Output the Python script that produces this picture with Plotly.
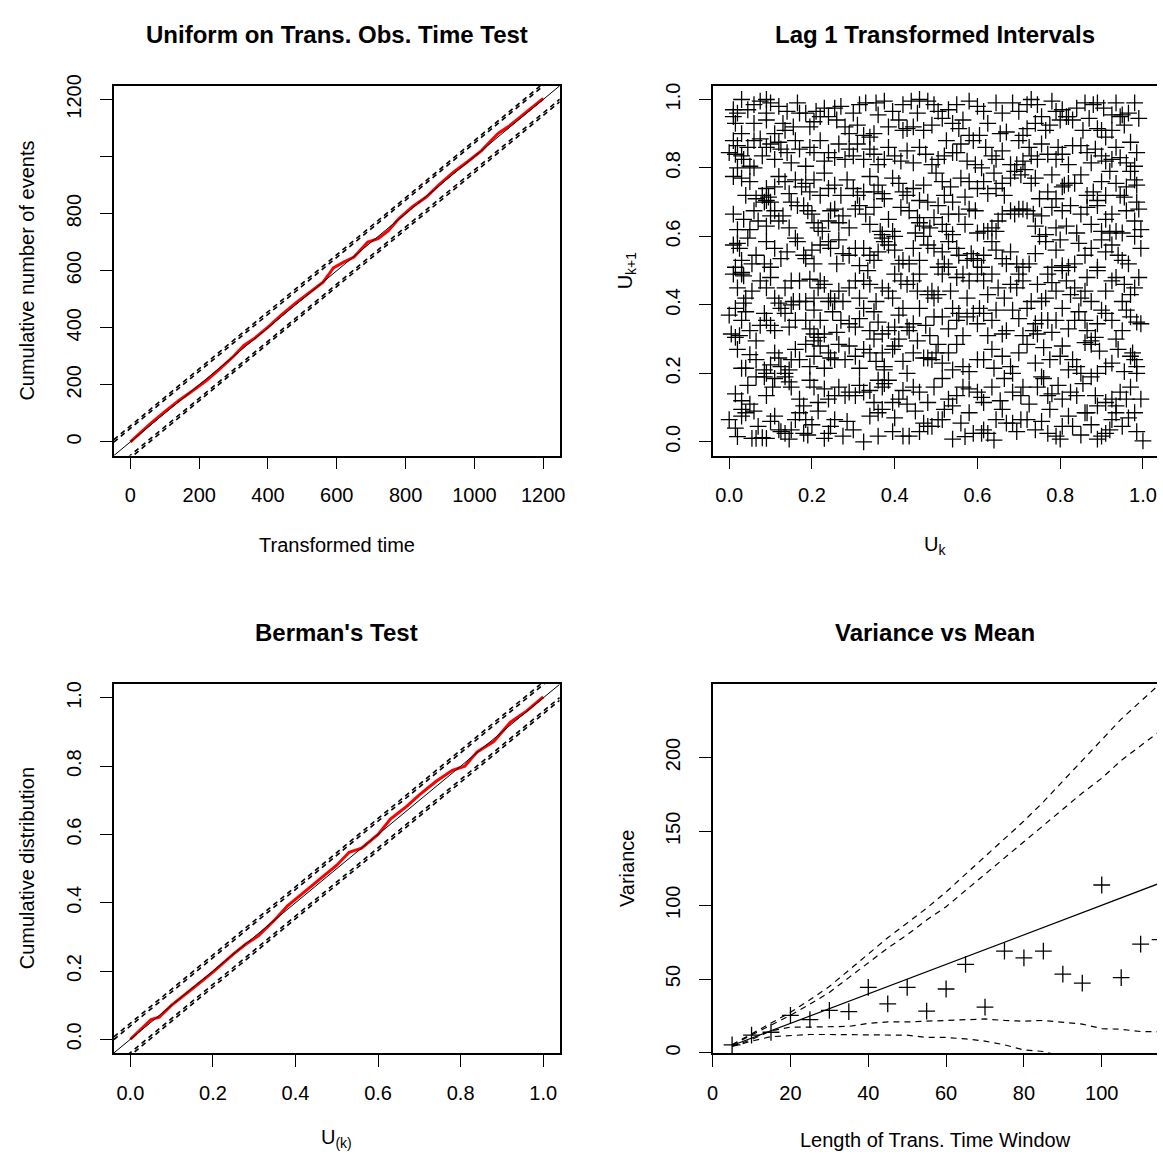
import plotly.graph_objects as go

W, H = 1163, 1158

# ---------------- Panel 1: Uniform on Trans. Obs. Time Test ----------------
tt_time = [0, 30, 60, 100, 140, 180, 220, 260, 300, 330, 360, 400, 440, 480, 520,
           560, 575, 590, 620, 650, 690, 720, 750, 780, 820, 860, 900, 940, 980,
           1020, 1050, 1070, 1100, 1140, 1170, 1200]
tt_count = [0, 34, 66, 106, 144, 178, 214, 256, 300, 338, 362, 402, 446, 486, 524,
            560, 584, 610, 630, 648, 700, 712, 740, 782, 824, 858, 904, 946, 982,
            1020, 1058, 1082, 1106, 1146, 1176, 1204]
tt_band_offsets = [47, 56]
tt_range = [-48, 1248]
tt_ticks = [0, 200, 400, 600, 800, 1000, 1200]
tt_xticklabels = ["0", "200", "400", "600", "800", "1000", "1200"]
tt_yticklabels = ["0", "200", "400", "600", "800", " ", "1200"]

# ---------------- Panel 3: Berman's Test ----------------
ks_u = [0, 0.03, 0.05, 0.07, 0.1, 0.15, 0.2, 0.25, 0.28, 0.31, 0.35, 0.38, 0.42,
        0.46, 0.5, 0.53, 0.56, 0.6, 0.63, 0.67, 0.7, 0.74, 0.78, 0.81, 0.84, 0.88,
        0.92, 0.96, 1.0]
ks_cdf = [0, 0.035, 0.058, 0.065, 0.10, 0.148, 0.197, 0.25, 0.279, 0.303, 0.35,
          0.39, 0.43, 0.47, 0.51, 0.548, 0.56, 0.60, 0.645, 0.683, 0.716, 0.755,
          0.788, 0.80, 0.842, 0.872, 0.928, 0.962, 1.003]
ks_band_offsets = [0.039, 0.047]
ks_range = [-0.04, 1.04]
unit_ticks = [0, 0.2, 0.4, 0.6, 0.8, 1.0]
unit_ticklabels = ["0.0", "0.2", "0.4", "0.6", "0.8", "1.0"]

# ---------------- Panel 2: Lag 1 Transformed Intervals ----------------
lag_points = [
    (0.01,0.97),(0.01,0.95),(0.02,0.96),(0.03,1.0),(0.075,0.995),(0.09,1.0),(0.10,0.99),(0.09,0.96),
    (0.12,0.98),(0.14,0.965),(0.17,0.96),(0.185,0.96),(0.24,0.95),(0.255,0.975),(0.27,0.98),(0.33,0.99),
    (0.355,0.99),(0.375,0.995),(0.42,0.985),(0.44,0.995),(0.46,1.0),(0.48,0.995),(0.495,0.985),(0.53,0.97),
    (0.55,0.985),(0.58,0.995),(0.60,0.98),(0.615,0.965),(0.685,0.99),(0.70,0.965),(0.73,1.0),(0.745,0.985),
    (0.78,0.995),(0.805,0.97),(0.82,0.95),(0.86,0.99),(0.88,0.985),(0.89,0.99),(0.98,0.99),(0.925,0.955),
    (0.945,0.95),(0.95,0.955),
    (0.015,0.93),(0.03,0.90),(0.06,0.93),(0.09,0.94),(0.11,0.90),(0.135,0.91),(0.155,0.92),(0.195,0.92),
    (0.205,0.935),(0.22,0.95),(0.28,0.92),(0.29,0.90),(0.31,0.925),(0.325,0.895),(0.34,0.89),(0.35,0.90),
    (0.385,0.92),(0.42,0.91),(0.43,0.915),(0.445,0.92),(0.47,0.91),(0.49,0.925),(0.515,0.945),(0.54,0.93),
    (0.555,0.915),(0.58,0.895),(0.59,0.88),(0.605,0.895),(0.655,0.90),(0.67,0.905),(0.70,0.88),(0.71,0.895),
    (0.72,0.915),(0.74,0.93),(0.765,0.91),(0.775,0.925),(0.80,0.94),(0.815,0.95),(0.83,0.94),(0.855,0.91),
    (0.89,0.915),(0.90,0.91),(0.91,0.89),(0.925,0.91),(0.955,0.925),
    (0.045,0.97),(0.06,0.985),(0.13,0.93),(0.165,0.99),(0.21,0.965),(0.23,0.975),(0.26,0.94),(0.30,0.96),
    (0.315,0.985),(0.36,0.955),(0.395,0.965),(0.41,0.94),(0.455,0.96),(0.505,0.965),(0.565,0.94),(0.625,0.93),
    (0.645,0.99),(0.66,0.96),(0.72,0.985),(0.755,0.95),(0.79,0.965),(0.84,0.975),(0.87,0.945),(0.905,0.975),
    (0.935,0.99),(0.965,0.96),(0.99,0.945),
    (0.0,0.845),(0.015,0.84),(0.03,0.835),(0.01,0.88),(0.035,0.825),(0.05,0.805),(0.06,0.80),(0.06,0.88),
    (0.075,0.885),(0.09,0.86),(0.11,0.825),(0.12,0.875),(0.125,0.855),(0.15,0.815),(0.17,0.855),(0.185,0.805),
    (0.205,0.845),(0.22,0.88),(0.24,0.845),(0.255,0.83),(0.28,0.825),(0.29,0.855),(0.30,0.835),(0.325,0.825),
    (0.34,0.855),(0.36,0.81),(0.375,0.825),(0.40,0.835),(0.43,0.85),(0.445,0.815),(0.46,0.86),(0.49,0.81),
    (0.505,0.825),(0.52,0.835),(0.54,0.845),(0.55,0.845),(0.575,0.82),(0.595,0.81),(0.61,0.80),(0.635,0.835),
    (0.645,0.825),(0.68,0.81),(0.695,0.81),(0.71,0.82),(0.73,0.835),(0.745,0.825),(0.77,0.84),(0.79,0.825),
    (0.805,0.84),(0.83,0.865),(0.85,0.865),(0.865,0.845),(0.885,0.855),(0.90,0.835),(0.91,0.82),(0.925,0.825),
    (0.945,0.83),(0.96,0.815),(0.985,0.845),(0.98,0.805),
    (0.02,0.865),(0.045,0.86),(0.08,0.835),(0.10,0.87),(0.14,0.845),(0.16,0.88),(0.195,0.86),(0.23,0.82),
    (0.265,0.87),(0.31,0.87),(0.35,0.84),(0.385,0.86),(0.415,0.82),(0.475,0.84),(0.525,0.88),(0.56,0.87),
    (0.62,0.86),(0.66,0.85),(0.725,0.86),(0.755,0.87),(0.795,0.86),(0.82,0.81),(0.875,0.815),(0.935,0.86),
    (0.97,0.875),
    (0.01,0.775),(0.02,0.80),(0.03,0.77),(0.04,0.72),(0.065,0.71),(0.08,0.72),(0.09,0.705),(0.095,0.715),
    (0.085,0.70),(0.10,0.70),(0.09,0.74),(0.12,0.775),(0.135,0.76),(0.16,0.765),(0.175,0.745),(0.185,0.755),
    (0.205,0.765),(0.22,0.72),(0.24,0.74),(0.255,0.75),(0.27,0.72),(0.30,0.74),(0.31,0.72),(0.325,0.73),
    (0.35,0.73),(0.37,0.725),(0.375,0.71),(0.395,0.77),(0.42,0.73),(0.43,0.72),(0.445,0.74),(0.46,0.705),
    (0.48,0.70),(0.515,0.76),(0.52,0.72),(0.54,0.70),(0.56,0.77),(0.58,0.76),(0.60,0.74),(0.615,0.76),
    (0.625,0.725),(0.645,0.74),(0.66,0.755),(0.68,0.77),(0.69,0.79),(0.705,0.78),(0.715,0.795),(0.73,0.755),
    (0.75,0.71),(0.77,0.73),(0.805,0.745),(0.81,0.75),(0.82,0.755),(0.835,0.755),(0.865,0.72),(0.88,0.73),
    (0.89,0.705),(0.91,0.72),(0.935,0.755),(0.945,0.72),(0.955,0.715),(0.97,0.79),(0.98,0.765),(0.985,0.75),
    (0.985,0.70),
    (0.05,0.76),(0.11,0.745),(0.145,0.725),(0.195,0.73),(0.23,0.785),(0.285,0.765),(0.34,0.775),(0.36,0.75),
    (0.41,0.755),(0.47,0.75),(0.50,0.785),(0.535,0.745),(0.57,0.715),(0.64,0.785),(0.665,0.72),(0.74,0.77),
    (0.78,0.78),(0.79,0.71),(0.85,0.78),(0.90,0.76),(0.92,0.79),(0.96,0.745),
    (0.01,0.665),(0.035,0.65),(0.05,0.62),(0.06,0.675),(0.07,0.645),(0.11,0.675),(0.12,0.645),(0.13,0.66),
    (0.15,0.70),(0.165,0.69),(0.18,0.69),(0.19,0.675),(0.20,0.665),(0.215,0.625),(0.225,0.615),(0.24,0.645),
    (0.245,0.675),(0.255,0.68),(0.265,0.64),(0.29,0.625),(0.305,0.68),(0.315,0.69),(0.34,0.635),(0.365,0.615),
    (0.37,0.605),(0.395,0.615),(0.40,0.60),(0.435,0.675),(0.455,0.655),(0.46,0.64),(0.47,0.63),(0.485,0.625),
    (0.495,0.655),(0.515,0.635),(0.525,0.615),(0.54,0.605),(0.555,0.665),(0.58,0.68),(0.595,0.675),(0.60,0.61),
    (0.615,0.615),(0.625,0.615),(0.635,0.625),(0.645,0.615),(0.66,0.665),(0.68,0.675),(0.69,0.665),(0.70,0.68),
    (0.71,0.68),(0.72,0.675),(0.735,0.665),(0.755,0.66),(0.765,0.605),(0.79,0.625),(0.805,0.675),(0.825,0.69),
    (0.85,0.665),(0.875,0.635),(0.89,0.69),(0.90,0.615),(0.92,0.61),(0.935,0.615),(0.95,0.61),(0.925,0.665),
    (0.98,0.645),(0.99,0.68),
    (0.02,0.62),(0.09,0.63),(0.10,0.66),(0.145,0.625),(0.205,0.64),(0.275,0.66),(0.33,0.665),(0.35,0.685),
    (0.385,0.65),(0.415,0.685),(0.45,0.61),(0.505,0.69),(0.53,0.665),(0.57,0.635),(0.65,0.645),(0.74,0.63),
    (0.78,0.685),(0.815,0.63),(0.84,0.61),(0.865,0.685),(0.91,0.65),(0.96,0.675),(0.995,0.62),
    (0.01,0.575),(0.025,0.565),(0.02,0.58),(0.03,0.53),(0.015,0.51),(0.03,0.495),(0.065,0.545),(0.085,0.52),
    (0.09,0.585),(0.11,0.565),(0.125,0.535),(0.16,0.595),(0.165,0.585),(0.18,0.545),(0.185,0.535),(0.205,0.52),
    (0.22,0.575),(0.24,0.585),(0.245,0.565),(0.26,0.52),(0.29,0.545),(0.305,0.565),(0.325,0.565),(0.34,0.545),
    (0.35,0.53),(0.37,0.595),(0.375,0.585),(0.385,0.575),(0.42,0.53),(0.435,0.52),(0.46,0.53),(0.48,0.575),
    (0.495,0.565),(0.505,0.51),(0.52,0.52),(0.53,0.585),(0.55,0.565),(0.555,0.545),(0.575,0.53),(0.585,0.55),
    (0.59,0.535),(0.60,0.53),(0.61,0.51),(0.615,0.545),(0.635,0.585),(0.66,0.535),(0.67,0.52),(0.695,0.52),
    (0.71,0.51),(0.725,0.52),(0.75,0.60),(0.765,0.585),(0.78,0.51),(0.805,0.515),(0.82,0.51),(0.835,0.52),
    (0.86,0.545),(0.875,0.565),(0.89,0.51),(0.91,0.555),(0.925,0.575),(0.95,0.53),(0.965,0.52),(0.995,0.565),
    (0.045,0.595),(0.055,0.52),(0.10,0.51),(0.14,0.555),(0.20,0.56),(0.265,0.59),(0.275,0.55),(0.315,0.515),
    (0.36,0.555),(0.40,0.56),(0.41,0.52),(0.445,0.565),(0.47,0.60),(0.515,0.555),(0.645,0.56),(0.68,0.555),
    (0.74,0.55),(0.79,0.56),(0.80,0.59),(0.845,0.58),(0.90,0.59),(0.94,0.545),(0.98,0.60),
    (0.01,0.49),(0.03,0.49),(0.035,0.485),(0.04,0.42),(0.035,0.405),(0.075,0.47),(0.09,0.45),(0.11,0.42),
    (0.135,0.45),(0.155,0.41),(0.17,0.47),(0.185,0.41),(0.205,0.42),(0.215,0.45),(0.22,0.47),(0.23,0.46),
    (0.24,0.41),(0.245,0.42),(0.255,0.41),(0.275,0.41),(0.29,0.45),(0.305,0.47),(0.325,0.47),(0.335,0.50),
    (0.34,0.46),(0.37,0.45),(0.385,0.44),(0.40,0.49),(0.43,0.46),(0.445,0.47),(0.46,0.49),(0.48,0.43),
    (0.49,0.44),(0.495,0.42),(0.515,0.49),(0.53,0.51),(0.55,0.48),(0.565,0.49),(0.58,0.47),(0.60,0.49),
    (0.615,0.47),(0.635,0.49),(0.65,0.45),(0.68,0.46),(0.695,0.45),(0.71,0.47),(0.73,0.41),(0.755,0.41),
    (0.765,0.42),(0.77,0.49),(0.79,0.44),(0.805,0.50),(0.825,0.43),(0.835,0.45),(0.85,0.42),(0.865,0.48),
    (0.875,0.41),(0.89,0.50),(0.925,0.47),(0.935,0.48),(0.95,0.41),(0.97,0.43),(0.98,0.45),(0.99,0.48),
    (0.02,0.45),(0.055,0.44),(0.10,0.48),(0.12,0.405),(0.15,0.47),(0.195,0.475),(0.265,0.44),(0.315,0.42),
    (0.355,0.41),(0.395,0.42),(0.415,0.47),(0.455,0.44),(0.505,0.43),(0.535,0.44),(0.575,0.42),(0.625,0.43),
    (0.665,0.42),(0.70,0.49),(0.745,0.46),(0.78,0.465),(0.815,0.47),(0.86,0.44),(0.91,0.44),(0.955,0.46),
    (0.0,0.37),(0.015,0.39),(0.03,0.355),(0.005,0.315),(0.025,0.31),(0.015,0.305),(0.05,0.325),(0.065,0.295),
    (0.085,0.375),(0.09,0.355),(0.10,0.34),(0.11,0.325),(0.125,0.39),(0.135,0.375),(0.145,0.335),(0.15,0.40),
    (0.17,0.41),(0.185,0.355),(0.205,0.385),(0.22,0.355),(0.23,0.315),(0.205,0.315),(0.215,0.305),(0.27,0.355),
    (0.29,0.345),(0.305,0.335),(0.325,0.39),(0.34,0.325),(0.35,0.38),(0.37,0.315),(0.385,0.325),(0.40,0.335),
    (0.42,0.39),(0.43,0.335),(0.435,0.325),(0.445,0.345),(0.46,0.39),(0.495,0.365),(0.515,0.365),(0.54,0.39),
    (0.55,0.355),(0.555,0.375),(0.575,0.365),(0.59,0.375),(0.605,0.39),(0.615,0.375),(0.635,0.355),(0.645,0.385),
    (0.66,0.315),(0.67,0.325),(0.685,0.385),(0.72,0.39),(0.735,0.325),(0.74,0.345),(0.745,0.315),(0.755,0.355),
    (0.77,0.355),(0.79,0.355),(0.805,0.39),(0.835,0.355),(0.86,0.355),(0.865,0.325),(0.875,0.295),(0.885,0.305),
    (0.90,0.385),(0.91,0.375),(0.925,0.355),(0.95,0.325),(0.97,0.365),(0.995,0.345),(0.985,0.35),
    (0.04,0.38),(0.075,0.34),(0.16,0.355),(0.195,0.33),(0.25,0.38),(0.26,0.32),(0.315,0.36),(0.36,0.35),
    (0.41,0.37),(0.475,0.34),(0.485,0.31),(0.53,0.33),(0.565,0.31),(0.60,0.345),(0.625,0.31),(0.70,0.36),
    (0.71,0.31),(0.78,0.32),(0.82,0.33),(0.845,0.38),(0.89,0.345),(0.935,0.30),(0.96,0.385),
    (0.02,0.27),(0.03,0.215),(0.04,0.215),(0.065,0.24),(0.085,0.21),(0.09,0.20),(0.11,0.26),(0.12,0.245),
    (0.125,0.22),(0.135,0.20),(0.145,0.21),(0.15,0.24),(0.17,0.24),(0.185,0.285),(0.205,0.295),(0.205,0.25),
    (0.22,0.28),(0.24,0.26),(0.245,0.245),(0.255,0.24),(0.28,0.24),(0.29,0.28),(0.305,0.25),(0.325,0.27),
    (0.34,0.26),(0.35,0.30),(0.37,0.26),(0.375,0.22),(0.375,0.21),(0.395,0.27),(0.40,0.28),(0.41,0.30),
    (0.43,0.20),(0.445,0.26),(0.47,0.245),(0.48,0.245),(0.49,0.24),(0.50,0.26),(0.505,0.285),(0.515,0.23),
    (0.54,0.21),(0.565,0.22),(0.60,0.24),(0.615,0.24),(0.635,0.27),(0.66,0.25),(0.68,0.22),(0.685,0.20),
    (0.72,0.285),(0.755,0.19),(0.775,0.24),(0.80,0.25),(0.805,0.28),(0.83,0.24),(0.84,0.22),(0.85,0.20),
    (0.86,0.29),(0.875,0.285),(0.89,0.20),(0.91,0.22),(0.925,0.23),(0.97,0.25),(0.98,0.24),(0.985,0.22),
    (0.975,0.26),(0.985,0.20),
    (0.05,0.255),(0.10,0.225),(0.16,0.27),(0.195,0.22),(0.23,0.215),(0.265,0.285),(0.315,0.215),(0.355,0.235),
    (0.42,0.235),(0.455,0.295),(0.53,0.26),(0.55,0.285),(0.58,0.205),(0.64,0.215),(0.70,0.26),(0.74,0.23),
    (0.76,0.275),(0.82,0.21),(0.895,0.265),(0.94,0.27),(0.955,0.205),
    (0.015,0.14),(0.03,0.12),(0.03,0.095),(0.065,0.19),(0.085,0.19),(0.11,0.185),(0.135,0.19),(0.145,0.175),
    (0.15,0.16),(0.195,0.18),(0.205,0.16),(0.23,0.155),(0.24,0.125),(0.255,0.135),(0.265,0.16),(0.28,0.135),
    (0.29,0.145),(0.305,0.135),(0.325,0.145),(0.34,0.15),(0.36,0.18),(0.37,0.16),(0.375,0.17),(0.385,0.18),
    (0.395,0.115),(0.41,0.125),(0.43,0.11),(0.445,0.16),(0.46,0.145),(0.495,0.16),(0.53,0.125),(0.55,0.135),
    (0.565,0.16),(0.58,0.155),(0.60,0.145),(0.61,0.13),(0.615,0.115),(0.635,0.16),(0.685,0.145),(0.705,0.135),
    (0.71,0.16),(0.745,0.16),(0.77,0.135),(0.78,0.14),(0.805,0.125),(0.825,0.145),(0.84,0.135),(0.865,0.085),
    (0.885,0.135),(0.89,0.105),(0.91,0.115),(0.925,0.125),(0.945,0.145),(0.97,0.16),(0.995,0.125),(0.98,0.085),
    (0.045,0.165),(0.05,0.11),(0.09,0.135),(0.105,0.16),(0.17,0.125),(0.18,0.105),(0.215,0.115),(0.315,0.165),
    (0.35,0.115),(0.42,0.15),(0.48,0.115),(0.515,0.185),(0.54,0.105),(0.655,0.12),(0.665,0.185),(0.725,0.11),
    (0.76,0.185),(0.795,0.165),(0.855,0.17),(0.875,0.19),(0.935,0.105),(0.96,0.125),
    (0.0,0.065),(0.015,0.04),(0.03,0.075),(0.04,0.085),(0.06,0.09),(0.055,0.01),(0.065,0.01),(0.08,0.012),
    (0.09,0.01),(0.07,0.045),(0.12,0.035),(0.125,0.03),(0.135,0.025),(0.145,0.008),(0.15,0.035),(0.16,0.065),
    (0.17,0.085),(0.185,0.065),(0.18,0.025),(0.19,0.02),(0.24,0.025),(0.245,0.045),(0.255,0.065),(0.275,0.017),
    (0.325,0.0),(0.36,0.017),(0.34,0.075),(0.36,0.085),(0.37,0.095),(0.42,0.017),(0.435,0.017),(0.47,0.055),
    (0.48,0.045),(0.49,0.045),(0.505,0.065),(0.515,0.065),(0.54,0.008),(0.58,0.085),(0.59,0.025),(0.61,0.025),
    (0.615,0.035),(0.625,0.025),(0.645,0.065),(0.66,0.095),(0.67,0.055),(0.685,0.055),(0.705,0.065),(0.72,0.065),
    (0.74,0.035),(0.77,0.025),(0.79,0.017),(0.80,0.008),(0.805,0.045),(0.83,0.045),(0.86,0.085),(0.89,0.008),
    (0.90,0.017),(0.91,0.025),(0.92,0.035),(0.925,0.065),(0.935,0.085),(0.95,0.045),(1.0,0.003),
    (0.02,0.015),(0.10,0.06),(0.11,0.075),(0.20,0.05),(0.215,0.09),(0.23,0.01),(0.285,0.06),(0.30,0.035),
    (0.395,0.03),(0.40,0.07),(0.45,0.09),(0.46,0.03),(0.52,0.095),(0.56,0.055),(0.57,0.015),(0.64,0.005),
    (0.695,0.03),(0.755,0.06),(0.775,0.095),(0.82,0.075),(0.85,0.02),(0.875,0.05),(0.965,0.07),(0.985,0.03),
]
uk = [p[0] for p in lag_points]
uk1 = [p[1] for p in lag_points]
lag_xrange = [-0.04, 1.034]

# ---------------- Panel 4: Variance vs Mean ----------------
win_len = [5, 10, 15, 20, 25, 30, 35, 40, 45, 50, 55, 60, 65, 70, 75, 80, 85, 90,
           95, 100, 105, 110, 115]
var_obs = [5.4, 12, 14, 25.4, 22.5, 28.8, 28, 44.4, 33.2, 44.4, 28.3, 43.3, 60, 31,
           68.9, 64.4, 68.9, 53.3, 47.3, 113.7, 51, 73.7, 76.7]
var_up_outer = [5.6, 13, 20, 27.5, 36, 45, 56, 67, 78, 88, 98, 109, 121, 133, 145,
                157, 170, 184, 198, 212, 226, 238, 250]
var_up_inner = [5.5, 12, 18.5, 25.5, 33, 41, 51, 61, 71, 80, 90, 99, 110, 121, 132,
                143, 154, 165, 176, 186, 198, 208, 218]
var_lo_inner = [4.5, 9, 15, 17.5, 17.5, 17.5, 18, 20, 21, 21, 21.5, 22, 22, 23, 22,
                21.5, 22, 21, 19.5, 16.5, 16, 14.5, 14.3]
var_lo_outer = [4.4, 8, 11, 12, 12.5, 12.5, 12.5, 12.5, 12, 12, 10.5, 10.5, 9.5, 8,
                5.5, 2, 1, -2.5, None, None, None, None, None]
var_xrange = [0, 114.2]
var_yrange = [0, 249.6]
var_xticks = [0, 20, 40, 60, 80, 100]
var_yticks = [0, 50, 100, 150, 200]


def px(x):
    return x / W


def py(y):
    return 1 - y / H


FONT = "Liberation Sans"
tickfont = dict(family=FONT, size=20, color="black")

# pixel boxes: left, right, top, bottom
box_tl = (109, 559.5, 75.7, 450)
box_tr = (714, 1163, 75.7, 450)
box_bl = (109, 559.5, 681.5, 1054.7)
box_br = (714, 1163, 681.5, 1054.7)


def xax(box, rng, tickvals, ticktext, anchor, mirror=True):
    return dict(domain=[px(box[0]), px(box[1])], range=rng, anchor=anchor,
                showline=True, linecolor="black", linewidth=1.5, mirror=mirror,
                ticks="outside", ticklen=12, tickwidth=1.3, tickcolor="black",
                tickmode="array", tickvals=tickvals, ticktext=ticktext,
                tickfont=tickfont, showgrid=False, zeroline=False,
                ticklabelstandoff=9)


def yax(box, rng, tickvals, ticktext, anchor, mirror=True):
    return dict(domain=[py(box[3]), py(box[2])], range=rng, anchor=anchor,
                showline=True, linecolor="black", linewidth=1.5, mirror=mirror,
                ticks="outside", ticklen=12, tickwidth=1.3, tickcolor="black",
                tickmode="array", tickvals=tickvals, ticktext=ticktext,
                tickfont=tickfont, tickangle=-90, showgrid=False, zeroline=False,
                ticklabelstandoff=11)


fig = go.Figure()

# Panel 1 traces
fig.add_trace(go.Scatter(x=tt_time, y=tt_count, mode="lines",
                         line=dict(color="#ff0000", width=3), xaxis="x", yaxis="y"))
fig.add_trace(go.Scatter(x=tt_range, y=tt_range, mode="lines",
                         line=dict(color="black", width=1), xaxis="x", yaxis="y"))
for off in tt_band_offsets:
    for sgn in (1, -1):
        fig.add_trace(go.Scatter(x=tt_range, y=[v + sgn * off for v in tt_range],
                                 mode="lines",
                                 line=dict(color="black", width=1.6, dash="5px,4px"),
                                 xaxis="x", yaxis="y"))

# Panel 2 traces
fig.add_trace(go.Scatter(x=uk, y=uk1, mode="markers",
                         marker=dict(symbol="cross-thin", size=12,
                                     line=dict(color="black", width=1.3)),
                         xaxis="x2", yaxis="y2"))

# Panel 3 traces
fig.add_trace(go.Scatter(x=ks_u, y=ks_cdf, mode="lines",
                         line=dict(color="#ff0000", width=3), xaxis="x3", yaxis="y3"))
fig.add_trace(go.Scatter(x=ks_range, y=ks_range, mode="lines",
                         line=dict(color="black", width=1), xaxis="x3", yaxis="y3"))
for off in ks_band_offsets:
    for sgn in (1, -1):
        fig.add_trace(go.Scatter(x=ks_range, y=[v + sgn * off for v in ks_range],
                                 mode="lines",
                                 line=dict(color="black", width=1.6, dash="5px,4px"),
                                 xaxis="x3", yaxis="y3"))

# Panel 4 traces
fig.add_trace(go.Scatter(x=win_len, y=var_obs, mode="markers",
                         marker=dict(symbol="cross-thin", size=12,
                                     line=dict(color="black", width=1.3)),
                         xaxis="x4", yaxis="y4"))
fig.add_trace(go.Scatter(x=win_len, y=win_len, mode="lines",
                         line=dict(color="black", width=1.2), xaxis="x4", yaxis="y4"))
for series in (var_up_outer, var_up_inner, var_lo_inner, var_lo_outer):
    fig.add_trace(go.Scatter(x=win_len, y=series, mode="lines",
                             line=dict(color="black", width=1.2, dash="6px,5px"),
                             connectgaps=False, xaxis="x4", yaxis="y4"))

fig.update_layout(
    width=W, height=H, margin=dict(l=0, r=0, t=0, b=0, pad=0),
    paper_bgcolor="white", plot_bgcolor="white", showlegend=False,
    xaxis=xax(box_tl, tt_range, tt_ticks, tt_xticklabels, "y"),
    yaxis=yax(box_tl, tt_range, tt_ticks, tt_yticklabels, "x"),
    xaxis2=xax(box_tr, lag_xrange, unit_ticks, unit_ticklabels, "y2"),
    yaxis2=yax(box_tr, [-0.04, 1.04], unit_ticks, unit_ticklabels, "x2", mirror=False),
    xaxis3=xax(box_bl, ks_range, unit_ticks, unit_ticklabels, "y3"),
    yaxis3=yax(box_bl, ks_range, unit_ticks, unit_ticklabels, "x3"),
    xaxis4=xax(box_br, var_xrange, var_xticks, [str(v) for v in var_xticks], "y4"),
    yaxis4=yax(box_br, var_yrange, var_yticks, [str(v) for v in var_yticks], "x4", mirror=False),
)

titles = [
    ("Uniform on Trans. Obs. Time Test", 334, 24),
    ("Lag 1 Transformed Intervals", 939, 24),
    ("Berman's Test", 334, 629),
    ("Variance vs Mean", 939, 629),
]
ann = []
for text, x, y in titles:
    ann.append(dict(text="<b>%s</b>" % text, x=px(x), y=py(y), xref="paper", yref="paper",
                    showarrow=False, xanchor="center", yanchor="middle",
                    font=dict(family=FONT, size=24, color="black")))

xlabels = [
    ("Transformed time", 334, 541),
    ("U<sub>k</sub>", 939, 541),
    ("U<sub>(k)</sub>", 334, 1141),
    ("Length of Trans. Time Window", 939, 1143),
]
for text, x, y in xlabels:
    ann.append(dict(text=text, x=px(x), y=py(y), xref="paper", yref="paper",
                    showarrow=False, xanchor="center", yanchor="middle",
                    font=dict(family=FONT, size=20, color="black")))

ylabels = [
    ("Cumulative number of events", 21, 263),
    ("U<sub>k+1</sub>", 627, 263),
    ("Cumulative distribution", 21, 868),
    ("Variance", 627, 868),
]
for text, x, y in ylabels:
    ann.append(dict(text=text, x=px(x), y=py(y), xref="paper", yref="paper",
                    showarrow=False, xanchor="center", yanchor="middle", textangle=-90,
                    font=dict(family=FONT, size=20, color="black")))

fig.update_layout(annotations=ann)

fig.write_html(
    "out.html", config={"displayModeBar": False},
    post_script=("document.body.style.margin='0';"
                 "document.body.style.overflow='hidden';"
                 "document.documentElement.style.overflow='hidden';"))
